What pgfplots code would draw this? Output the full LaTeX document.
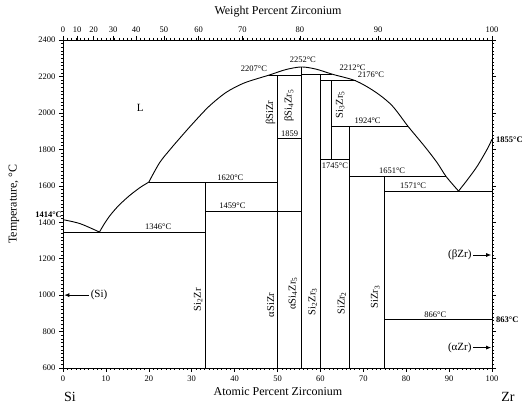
\documentclass[border=0pt]{standalone}
\usepackage{fontspec}
\setmainfont{Liberation Serif}
\usepackage{pgfplots}
\pgfplotsset{compat=1.18}
\usetikzlibrary{arrows.meta}
\tikzset{
  lab/.style={font=\fontsize{8.5}{10}\selectfont, inner sep=1pt},
  blab/.style={font=\fontsize{8.5}{10}\selectfont\bfseries, inner sep=1pt},
  ph/.style={font=\fontsize{10.5}{12}\selectfont, inner sep=0pt, rotate=90},
}
\begin{document}
\begin{tikzpicture}
\path[use as bounding box] (-63pt,-38pt) rectangle (469pt,368pt);
\begin{axis}[
  at={(0pt,0pt)}, anchor=south west, scale only axis,
  width=429pt, height=328pt,
  xmin=0, xmax=100, ymin=600, ymax=2400,
  xtick={0,10,...,100}, minor x tick num=9,
  ytick={600,800,...,2400}, minor y tick num=9,
  xtick pos=lower, ytick pos=both, yticklabel pos=lower,
  tick align=outside, major tick length=4pt, minor tick length=2pt,
  every tick/.style={black, line width=0.5pt},
  axis line style={line width=0.8pt},
  ticklabel style={font=\fontsize{8.5}{10}\selectfont},
  /pgf/number format/assume math mode=true,
  /pgf/number format/1000 sep={},
  clip=false,
]
% vertical compound lines
\addplot[black, line width=0.8pt] coordinates {(33.3,600) (33.3,1620)};
\addplot[black, line width=0.8pt] coordinates {(50,600) (50,2207)};
\addplot[black, line width=0.8pt] coordinates {(55.6,600) (55.6,2252)};
\addplot[black, line width=0.8pt] coordinates {(60,600) (60,2212)};
\addplot[black, line width=0.8pt] coordinates {(62.5,1745) (62.5,2176)};
\addplot[black, line width=0.8pt] coordinates {(66.7,600) (66.7,1924)};
\addplot[black, line width=0.8pt] coordinates {(75,600) (75,1651)};
% horizontal invariant lines
\addplot[black, line width=0.8pt] coordinates {(0,1346) (33.3,1346)};
\addplot[black, line width=0.8pt] coordinates {(20,1620) (50,1620)};
\addplot[black, line width=0.8pt] coordinates {(33.3,1459) (55.6,1459)};
\addplot[black, line width=0.8pt] coordinates {(50,1859) (55.6,1859)};
\addplot[black, line width=0.8pt] coordinates {(48,2207) (55.6,2207)};
\addplot[black, line width=0.8pt] coordinates {(55.6,2212) (62.8,2212)};
\addplot[black, line width=0.8pt] coordinates {(60,2176) (68.2,2176)};
\addplot[black, line width=0.8pt] coordinates {(62.5,1924) (80.5,1924)};
\addplot[black, line width=0.8pt] coordinates {(60,1745) (66.7,1745)};
\addplot[black, line width=0.8pt] coordinates {(66.7,1651) (89.3,1651)};
\addplot[black, line width=0.8pt] coordinates {(75,1571) (100,1571)};
\addplot[black, line width=0.8pt] coordinates {(75,866) (100,866)};
% liquidus
\addplot[black, line width=0.9pt, smooth] coordinates {(0,1414) (4,1392) (8.5,1346)};
\addplot[black, line width=0.9pt, smooth] coordinates {(8.5,1346) (9.6,1390) (11,1438) (13,1492) (15.5,1546) (18,1591) (20,1620)};
\addplot[black, line width=0.9pt, smooth] coordinates {(20,1620) (22.5,1726) (25,1800) (27,1855) (30,1935) (34,2035) (38,2112) (42,2162) (46,2193) (48,2207) (52,2238) (55.6,2252) (59,2240) (62.8,2212) (68.2,2176) (72.8,2115) (76.7,2040) (80.5,1924) (84.3,1816) (87.2,1727) (89.3,1651) (92.2,1571)};
\addplot[black, line width=0.9pt, smooth] coordinates {(92.2,1571) (94.3,1634) (96.6,1709) (98.9,1802) (100,1855)};
% arrows
\addplot[black, line width=0.7pt, -{Latex[length=5pt,width=4pt]}] coordinates {(6,1000) (0.3,1000)};
\addplot[black, line width=0.7pt, -{Latex[length=5pt,width=4pt]}] coordinates {(95.6,1220) (99.8,1220)};
\addplot[black, line width=0.7pt, -{Latex[length=5pt,width=4pt]}] coordinates {(95.6,712) (99.8,712)};
% texts
\node[font=\fontsize{11}{12}\selectfont] at (axis cs:18,2030) {L};
\node[lab] at (axis cs:44.5,2245) {2207°C};
\node[lab] at (axis cs:55.9,2290) {2252°C};
\node[lab] at (axis cs:67.5,2250) {2212°C};
\node[lab] at (axis cs:71.8,2212) {2176°C};
\node[lab] at (axis cs:71,1955) {1924°C};
\node[lab] at (axis cs:52.8,1888) {1859};
\node[lab] at (axis cs:63.4,1712) {1745°C};
\node[lab] at (axis cs:76.7,1680) {1651°C};
\node[lab] at (axis cs:81.6,1598) {1571°C};
\node[lab] at (axis cs:86.8,893) {866°C};
\node[lab] at (axis cs:39,1646) {1620°C};
\node[lab] at (axis cs:39.5,1488) {1459°C};
\node[lab] at (axis cs:22.2,1376) {1346°C};
\node[blab, anchor=east] at (axis cs:0,1442) {1414°C};
\node[blab, anchor=west] at ([xshift=3pt]axis cs:100,1855) {1855°C};
\node[blab, anchor=west] at ([xshift=3pt]axis cs:100,863) {863°C};
\node[font=\fontsize{11}{12}\selectfont, anchor=west, inner sep=1pt] at (axis cs:6.2,1000) {(Si)};
\node[font=\fontsize{11}{12}\selectfont, anchor=east, inner sep=1pt] at (axis cs:95.5,1220) {(βZr)};
\node[font=\fontsize{11}{12}\selectfont, anchor=east, inner sep=1pt] at (axis cs:95.5,712) {(αZr)};
\node[ph] at (axis cs:48.4,2000) {βSiZr};
\node[ph] at (axis cs:52.7,2040) {βSi\textsubscript{4}Zr\textsubscript{5}};
\node[ph] at (axis cs:64.6,2045) {Si\textsubscript{3}Zr\textsubscript{5}};
\node[ph] at (axis cs:48.4,946) {αSiZr};
\node[ph] at (axis cs:53.6,1010) {αSi\textsubscript{4}Zr\textsubscript{5}};
\node[ph] at (axis cs:58.2,964) {Si\textsubscript{2}Zr\textsubscript{3}};
\node[ph] at (axis cs:65.0,955) {SiZr\textsubscript{2}};
\node[ph] at (axis cs:31.5,975) {Si\textsubscript{2}Zr};
\node[ph] at (axis cs:72.8,990) {SiZr\textsubscript{3}};
\end{axis}
\begin{axis}[
  at={(0pt,0pt)}, anchor=south west, scale only axis,
  width=429pt, height=328pt,
  xmin=0, xmax=100, ymin=600, ymax=2400,
  axis x line*=top, axis y line=none,
  xtick={0,3.308,7.147,11.657,17.030,23.540,31.592,41.806,55.187,73.481,100},
  xticklabels={0,10,20,30,40,50,60,70,80,90,100},
  minor xtick={0,1,...,100},
  tick align=outside, major tick length=4pt, minor tick length=2pt,
  every tick/.style={black, line width=0.5pt},
  axis line style={line width=0.8pt},
  ticklabel style={font=\fontsize{8.5}{10}\selectfont},
]
\end{axis}
\node[font=\fontsize{12}{14}\selectfont] at (215pt,356pt) {Weight Percent Zirconium};
\node[font=\fontsize{12}{14}\selectfont] at (215pt,-24pt) {Atomic Percent Zirconium};
\node[font=\fontsize{12}{14}\selectfont, rotate=90] at (-49pt,164pt) {Temperature, °C};
\node[font=\fontsize{14}{16}\selectfont] at (7pt,-29pt) {Si};
\node[font=\fontsize{14}{16}\selectfont] at (445pt,-29pt) {Zr};
\end{tikzpicture}
\end{document}
